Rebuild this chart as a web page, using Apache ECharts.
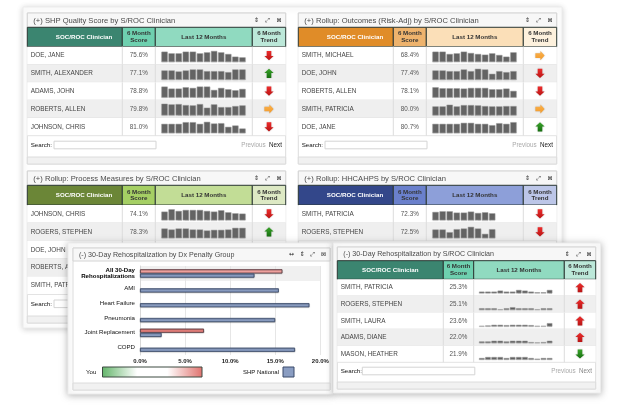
<!DOCTYPE html>
<html><head><meta charset="utf-8">
<style>html,body{margin:0;padding:0;background:#fff}#c{width:620px;height:414px;filter:blur(.35px)}</style>
<script src="https://cdn.jsdelivr.net/npm/echarts@6/dist/echarts.min.js"></script>
</head><body><div id="c"></div>
<script>
const months=['M1','M2','M3','M4','M5','M6','M7','M8','M9','M10','M11','M12'];
const headerClinician='SOC/ROC Clinician', headerScore='6 Month\nScore', headerLast='Last 12 Months', headerTrend='6 Month\nTrend';

const titleA='(+) SHP Quality Score by S/ROC Clinician';
const namesA=['DOE, JANE','SMITH, ALEXANDER','ADAMS, JOHN','ROBERTS, ALLEN','JOHNSON, CHRIS'];
const scoresA=['75.6%','77.1%','78.8%','79.8%','81.0%'];
const trendsA=['down','up','down','right','down'];
const sparksA=[[31,26,26,31,31,26,29,33,29,24,16,14],[28,28,25,28,31,31,26,26,26,23,31,31],[33,27,27,31,29,33,33,23,29,25,22,26],[35,33,34,31,30,34,23,33,25,25,28,30],[28,28,28,33,33,28,34,29,30,19,23,14]];

const titleB='(+) Rollup: Outcomes (Risk-Adj) by S/ROC Clinician';
const namesB=['SMITH, MICHAEL','DOE, JOHN','ROBERTS, ALLEN','SMITH, PATRICIA','DOE, JANE'];
const scoresB=['68.4%','77.4%','78.1%','80.0%','80.7%'];
const trendsB=['right','down','down','right','up'];
const sparksB=[[31,31,24,26,31,27,24,22,26,21,16,29],[28,28,26,26,31,26,33,31,18,26,23,26],[31,28,28,28,27,29,29,29,25,25,27,20],[27,27,32,27,31,31,30,28,27,27,28,28],[28,28,28,28,31,31,28,28,24,30,28,33]];

const titleC='(+) Rollup: Process Measures by S/ROC Clinician';
const namesC=['JOHNSON, CHRIS','ROGERS, STEPHEN','DOE, JOHN','ROBERTS, ALLEN','SMITH, PATRICIA'];
const scoresC=['74.1%','78.3%'];
const trendsC=['down','up'];
const sparksC=[[26,33,28,31,31,31,28,26,30,24,21,20],[29,26,29,29,26,26,23,25,25,26,31,31]];

const titleD='(+) Rollup: HHCAHPS by S/ROC Clinician';
const namesD=['SMITH, PATRICIA','ROGERS, STEPHEN'];
const scoresD=['72.3%','72.5%'];
const trendsD=['down','down'];
const sparksD=[[25,27,27,23,23,26,22,24,21],[26,26,18,27,29,34,29,13,27]];

const titleE='(-) 30-Day Rehospitalization by S/ROC Clinician';
const namesE=['SMITH, PATRICIA','ROGERS, STEPHEN','SMITH, LAURA','ADAMS, DIANE','MASON, HEATHER'];
const scoresE=['25.3%','25.1%','23.6%','22.0%','21.9%'];
const trendsE=['upred','upred','upred','upred','downgreen'];
const sparksE=[[5,5,5,8,5,5,10,8,5,3,3,10],[5,5,5,2,5,8,5,5,5,2,5,5],[2,3,5,5,4,5,5,5,4,2,2,10],[5,5,7,7,5,7,7,7,3,2,3,7],[5,8,8,8,5,8,8,8,5,3,5,5]];

const titleF='(-) 30-Day Rehospitalization by Dx Penalty Group';
const groups=['All 30-Day\nRehospitalizations','AMI','Heart Failure','Pneumonia','Joint Replacement','COPD'];
const youValues=[15.8,null,null,null,7.1,null];
const nationalValues=[12.7,15.4,18.8,15.0,2.4,17.2];
const youColors=['#f2a3a0',null,null,null,'#e57f7b',null];

const FONT='"Liberation Sans",Arial,sans-serif';
const graphic=[], grids=[], xAxes=[], yAxes=[], series=[];
function rect(x,y,w,h,fill,stroke,z,extra){graphic.push({type:'rect',silent:true,z,shape:{x,y,width:w,height:h},style:Object.assign({fill,stroke:stroke||null,lineWidth:stroke?1:0},extra||{})});}
function line(x1,y1,x2,y2,c,z){graphic.push({type:'line',silent:true,z,shape:{x1,y1,x2,y2},style:{stroke:c,lineWidth:1}});}
function text(t,x,y,size,fill,z,o){o=o||{};graphic.push({type:'text',silent:true,z,x,y,style:{text:t,fontSize:size,fontFamily:o.family||FONT,fontWeight:o.weight||'normal',fill,align:o.align||'left',verticalAlign:'middle',lineHeight:o.lh||undefined}});}
function arrow(kind,cx,cy,z){
  const green=kind==='up'||kind==='downgreen', orange=kind==='right';
  const top=green?'#3aa52a':orange?'#fbb24e':'#ee2c2c', bot=green?'#166e10':orange?'#f29a2a':'#b81414';
  const a=4.6,s=2.3,m=0.4;
  let pts=[[-s,-a],[s,-a],[s,m],[a,m],[0,a],[-a,m],[-s,m]];
  if(kind==='up'||kind==='upred')pts=pts.map(p=>[p[0],-p[1]]);
  if(kind==='right')pts=pts.map(p=>[p[1],p[0]]);
  graphic.push({type:'polygon',silent:true,z,shape:{points:pts.map(p=>[cx+p[0],cy+p[1]])},style:{fill:{type:'linear',x:0,y:0,x2:0,y2:1,colorStops:[{offset:0,color:top},{offset:1,color:bot}]},shadowColor:'rgba(0,0,0,.25)',shadowBlur:1.5}});
}
function panelFrame(p){
  const z=p.z;
  rect(p.x,p.y,p.r-p.x,p.footBottom-p.y,'#fff','#dcdcdc',z);
  rect(p.x,p.y,p.r-p.x,p.titleH,'#f7f7f7','#d4d4d4',z);
  text(p.title,p.x+6,p.y+p.titleH/2+.3,p.titleSize||7.6,'#4a4a4a',z,{});
  (p.icons||['⇕','⤢','⊠']).forEach((g,i,arr)=>{text(g,p.r-(p.iconStep*(arr.length-1-i))-6.6,p.y+p.titleH/2+.2,6,'#222',z,{family:'"DejaVu Sans"',align:'center'});});
  rect(p.x,p.footBottom-7,p.r-p.x,7,'#f1f1f1','#dcdcdc',z);
}
function tablePanel(p){
  panelFrame(p);
  const z=p.z, c=p.cols, hy=p.y+p.titleH, ry=hy+p.headH;
  const hc=p.colors, stroke='#2d3a36';
  rect(c[0],hy,c[1]-c[0],p.headH,hc[0],stroke,z);
  rect(c[1],hy,c[2]-c[1],p.headH,hc[1],stroke,z);
  rect(c[2],hy,c[3]-c[2],p.headH,hc[2],stroke,z);
  rect(c[3],hy,c[4]-c[3],p.headH,hc[3],stroke,z);
  const hm=hy+p.headH/2;
  text(headerClinician,p.headCx,hm,6.2,'#fff',z,{weight:'bold',align:'center'});
  text(headerScore,(c[1]+c[2])/2,hm,6.2,'#333',z,{weight:'bold',align:'center',lh:6.6});
  text(headerLast,(c[2]+c[3])/2,hm,6.2,'#333',z,{weight:'bold',align:'center'});
  text(headerTrend,(c[3]+c[4])/2,hm,6.2,'#333',z,{weight:'bold',align:'center',lh:6.6});
  p.names.forEach((n,i)=>{
    const y=ry+i*p.rowH;
    rect(c[0],y,c[4]-c[0],p.rowH,i%2?'#efefef':'#fff',null,z);
    line(c[0],y+p.rowH,c[4],y+p.rowH,'#e3e3e3',z);
    [c[1],c[2],c[3]].forEach(v=>line(v,y,v,y+p.rowH,'#dddddd',z));
    text(n,p.x+3.4,y+p.rowH/2,6.4,'#444',z);
    if(p.scores[i]!==undefined){
      text(p.scores[i],(c[1]+c[2])/2,y+p.rowH/2,6.3,'#555',z,{align:'center'});
      arrow(p.trends[i],(c[3]+c[4])/2,y+p.rowH/2,z);
      const g=grids.length;
      grids.push({left:c[2]+p.sparkDx,top:y+p.sparkBase-11.67,width:p.sparkW,height:11.67});
      xAxes.push({gridIndex:g,type:'category',data:months,show:false});
      yAxes.push({gridIndex:g,type:'value',min:0,max:35,show:false});
      series.push({type:'bar',xAxisIndex:g,yAxisIndex:g,z:z+1,silent:true,animation:false,barCategoryGap:'12%',data:p.sparks[i],
        itemStyle:{color:'#646464',borderColor:'#a0a0a0',borderWidth:.5,shadowColor:'rgba(0,0,0,.15)',shadowBlur:1,shadowOffsetY:.5}});
    }
  });
  const end=ry+p.names.length*p.rowH, sy=end+p.searchDy;
  text('Search:',p.x+3.4,sy,6.2,'#111',z);
  rect(p.x+p.inputL,sy-3.8,p.inputW,7.6,'#fff','#d4d4d4',z);
  text('Previous',p.r-20,sy,6.3,'#aaa',z,{align:'right'});
  text('Next',p.r-3.7,sy,6.3,p.nextColor,z,{align:'right'});
}

// back sheet
rect(23,7,539,321,'#fff','#ececec',1,{shadowColor:'rgba(0,0,0,.18)',shadowBlur:6,shadowOffsetX:0,shadowOffsetY:1});
const backCommon={z:2,titleH:14.3,iconStep:11.3,rowH:17.8,sparkDx:5.7,sparkW:85,sparkBase:15.3,searchDy:9.3,inputL:26.7,inputW:102,nextColor:'#222'};
tablePanel(Object.assign({},backCommon,{x:27.3,r:285.7,y:13,headH:19.4,footBottom:164,cols:[27.3,122.3,155.3,252.3,285.7],headCx:84,title:titleA,names:namesA,scores:scoresA,trends:trendsA,sparks:sparksA,colors:['#3b8570','#6ed0af','#90dac0','#bce8d9']}));
tablePanel(Object.assign({},backCommon,{x:298.3,r:556.7,y:13,headH:19.4,footBottom:164,cols:[298.3,393.3,426.3,523.3,556.7],headCx:355,title:titleB,names:namesB,scores:scoresB,trends:trendsB,sparks:sparksB,colors:['#e08c28','#eeb36d','#fbdfb8','#fdf1dd']}));
tablePanel(Object.assign({},backCommon,{x:27.3,r:285.7,y:171,headH:19.7,footBottom:323,rowH:17.9,cols:[27.3,122.3,155.3,252.3,285.7],headCx:84,title:titleC,names:namesC,scores:scoresC,trends:trendsC,sparks:sparksC,colors:['#6b8637','#a5cf64','#c2dd96','#dde9c4']}));
tablePanel(Object.assign({},backCommon,{x:298.3,r:556.7,y:171,headH:19.7,footBottom:323,rowH:17.9,cols:[298.3,393.3,426.3,523.3,556.7],headCx:355,title:titleD,names:namesD,scores:scoresD,trends:trendsD,sparks:sparksD,colors:['#33478a','#6a80cc','#8d9fd9','#bcc6e8']}));

// front card: bar chart
const zF=10;
rect(68,243,265,151,'#fff','#ececec',zF,{shadowColor:'rgba(0,0,0,.28)',shadowBlur:7,shadowOffsetY:1});
panelFrame({z:zF+1,x:73,r:330,y:248,titleH:13,footBottom:390,title:titleF,titleSize:7.1,iconStep:10.6,icons:['↔','⇕','⤢','⊠']});
rect(140,266,180.3,15,'#f0f0f0',null,zF+1);
text('You',86,372,6.1,'#111',zF+1);
rect(102.5,367,99.5,10,{type:'linear',x:0,y:0,x2:1,y2:0,colorStops:[{offset:0,color:'#63b56a'},{offset:.35,color:'#ffffff'},{offset:.65,color:'#ffffff'},{offset:1,color:'#e0726e'}]},'#3c4a40',zF+1);
text('SHP National',243,372,6,'#111',zF+1);
rect(283,367,11,10,'#8a9dc2','#3a4a6a',zF+1);

const gB=grids.length;
grids.push({left:140,top:266,width:180.3,height:89});
xAxes.push({gridIndex:gB,type:'value',min:0,max:20,interval:5,z:zF+2,axisLine:{show:false},axisTick:{show:false},
  splitLine:{show:true,lineStyle:{color:'#e6e6e6',width:1}},
  axisLabel:{fontSize:6,fontFamily:FONT,fontWeight:'bold',color:'#222',margin:3.5,formatter:v=>v.toFixed(1)+'%'}});
yAxes.push({gridIndex:gB,type:'category',inverse:true,data:groups,z:zF+2,axisTick:{show:false},axisLine:{lineStyle:{color:'#d8d8d8'}},
  axisLabel:{fontSize:6.1,fontFamily:FONT,color:'#111',margin:5,align:'right',lineHeight:6.7,
    formatter:(v,i)=>i===0?'{b|'+v.replace('\n','}\n{b|')+'}':v,rich:{b:{fontSize:6.1,fontWeight:'bold',fontFamily:FONT,color:'#000',lineHeight:6.7,align:'right'}}}});
const barBase={type:'bar',xAxisIndex:gB,yAxisIndex:gB,z:zF+3,silent:true,animation:false,barWidth:4.2,barGap:'0%'};
series.push(Object.assign({},barBase,{name:'You',data:youValues.map((v,i)=>v===null?null:{value:v,itemStyle:{color:youColors[i]}}),
  itemStyle:{color:'#e57f7b',borderColor:'#5a3a40',borderWidth:.8,shadowColor:'rgba(0,0,0,.3)',shadowBlur:1,shadowOffsetY:.6}}));
series.push(Object.assign({},barBase,{name:'SHP National',data:nationalValues,
  itemStyle:{color:'#8a9dc2',borderColor:'#3a4a6a',borderWidth:.8,shadowColor:'rgba(0,0,0,.3)',shadowBlur:1,shadowOffsetY:.6}}));

// front card: table
rect(333.5,243,267,150,'#fff','#ececec',zF+4,{shadowColor:'rgba(0,0,0,.28)',shadowBlur:7,shadowOffsetY:1});
tablePanel({z:zF+5,x:337.3,r:595.7,y:247,titleH:13.7,headH:18.6,rowH:16.6,footBottom:389,cols:[337.3,443.3,473.7,564.3,595.7],headCx:390.3,title:titleE,titleSize:7.1,iconStep:10.9,names:namesE,scores:scoresE,trends:trendsE,sparks:sparksE,colors:['#3b8570','#6ed0af','#90dac0','#bce8d9'],sparkDx:5,sparkW:74,sparkBase:14,searchDy:8.7,inputL:25,inputW:112.5,nextColor:'#888'});

const chart=echarts.init(document.getElementById('c'),null,{renderer:'canvas'});
chart.setOption({animation:false,backgroundColor:'#fff',grid:grids,xAxis:xAxes,yAxis:yAxes,series,graphic:{elements:graphic}});
</script></body></html>
